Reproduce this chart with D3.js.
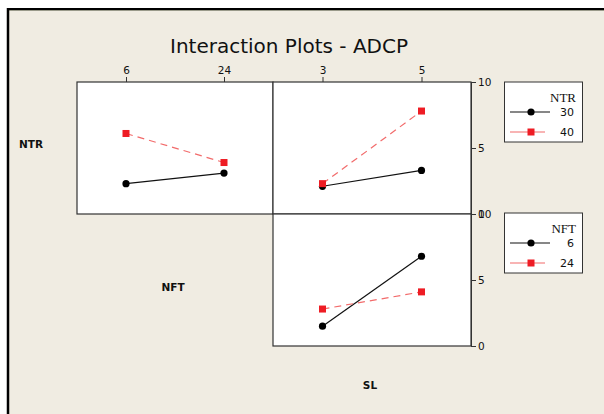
<!DOCTYPE html>
<html><head><meta charset="utf-8">
<script src="https://cdn.jsdelivr.net/npm/d3@7"></script>
<style>
html,body{margin:0;padding:0;background:#fff;}
svg{display:block;}
</style></head>
<body>
<svg id="chart" width="604" height="414"></svg>
<script>
// ---- data ----
const ntrLevels = ["30", "40"];
const nftLevels = ["6", "24"];
const slLevels = ["3", "5"];
const yTicks = [0, 5, 10];
// NTR x NFT panel (x = NFT)
const ntr30ByNft = [2.3, 3.1];
const ntr40ByNft = [6.1, 3.9];
// NTR x SL panel (x = SL)
const ntr30BySl = [2.1, 3.3];
const ntr40BySl = [2.3, 7.8];
// NFT x SL panel (x = SL)
const nft6BySl = [1.5, 6.8];
const nft24BySl = [2.8, 4.1];

const svg = d3.select("#chart");
const bg = "#f0ece2";
const red = "#ee1c24";
const redLine = "#f26b6b";

// background & frame
svg.append("rect").attr("x", 8).attr("y", 9).attr("width", 596).attr("height", 405).attr("fill", bg);
svg.append("line").attr("x1", 7).attr("x2", 604).attr("y1", 9).attr("y2", 9).attr("stroke", "#000").attr("stroke-width", 2);
svg.append("line").attr("x1", 9).attr("x2", 604).attr("y1", 10.5).attr("y2", 10.5).attr("stroke", "#9a9a8a").attr("stroke-width", 1);
svg.append("line").attr("x1", 8).attr("x2", 8).attr("y1", 8).attr("y2", 414).attr("stroke", "#000").attr("stroke-width", 2.5);

// title
svg.append("text").attr("x", 289).attr("y", 53).attr("text-anchor", "middle")
  .attr("font-family", "'DejaVu Sans', Verdana, sans-serif").attr("font-size", 20)
  .attr("fill", "#111").text("Interaction Plots - ADCP");

const x0 = 77, xm = 273, x1 = 471;
const yT = 82, yM = 214, yB = 346;

function panel(left, right, top, bottom, levels, series) {
  const g = svg.append("g");
  const x = d3.scalePoint().domain(levels).range([left, right]).padding(0.5);
  const y = d3.scaleLinear().domain([0, 10]).range([bottom, top]);
  g.append("rect").attr("x", left).attr("y", top).attr("width", right - left).attr("height", bottom - top)
    .attr("fill", "#fff").attr("stroke", "#333").attr("stroke-width", 1.2);
  series.forEach(s => {
    const pts = levels.map((l, i) => [x(l), y(s.values[i])]);
    g.append("path").attr("d", d3.line()(pts)).attr("fill", "none")
      .attr("stroke", s.line).attr("stroke-width", 1.2)
      .attr("stroke-dasharray", s.dash ? "7,5" : null);
    pts.forEach(p => {
      if (s.shape === "circle") {
        g.append("circle").attr("cx", p[0]).attr("cy", p[1]).attr("r", 3.6).attr("fill", "#000");
      } else {
        g.append("rect").attr("x", p[0] - 3.5).attr("y", p[1] - 3.5).attr("width", 7).attr("height", 7).attr("fill", s.color);
      }
    });
  });
  return { x, y };
}

const s1 = panel(x0, xm, yT, yM, nftLevels, [
  { values: ntr30ByNft, line: "#111", shape: "circle" },
  { values: ntr40ByNft, line: redLine, color: red, shape: "square", dash: true }
]);
const s2 = panel(xm, x1, yT, yM, slLevels, [
  { values: ntr30BySl, line: "#111", shape: "circle" },
  { values: ntr40BySl, line: redLine, color: red, shape: "square", dash: true }
]);
const s3 = panel(xm, x1, yM, yB, slLevels, [
  { values: nft6BySl, line: "#111", shape: "circle" },
  { values: nft24BySl, line: redLine, color: red, shape: "square", dash: true }
]);

// top axes
function topAxis(sc) {
  const a = svg.append("g").attr("transform", `translate(0,${yT})`)
    .call(d3.axisTop(sc).tickSize(5).tickPadding(3));
  a.select(".domain").remove();
  a.selectAll("line").attr("stroke", "#333");
  a.selectAll("text").attr("font-family", "'DejaVu Sans', Verdana, sans-serif").attr("font-size", 10.5).attr("fill", "#111");
}
topAxis(s1.x);
topAxis(s2.x);

// right axes
function rightAxis(sc) {
  const a = svg.append("g").attr("transform", `translate(${x1},0)`)
    .call(d3.axisRight(sc).tickValues(yTicks).tickSize(5).tickPadding(2));
  a.select(".domain").attr("stroke", "#333");
  a.selectAll("line").attr("stroke", "#333");
  a.selectAll("text").attr("font-family", "'DejaVu Sans', Verdana, sans-serif").attr("font-size", 10.5).attr("fill", "#111");
}
rightAxis(s2.y);
rightAxis(s3.y);

// row labels
const lab = (t, x, y) => svg.append("text").attr("x", x).attr("y", y).attr("text-anchor", "middle")
  .attr("font-family", "'DejaVu Sans', Verdana, sans-serif").attr("font-weight", "bold").attr("font-size", 10.5)
  .attr("fill", "#111").text(t);
lab("NTR", 31, 148);
lab("NFT", 173, 291);
lab("SL", 370, 389);

// legends
function legend(top, title, levels) {
  const g = svg.append("g");
  g.append("rect").attr("x", 504.5).attr("y", top).attr("width", 78).attr("height", 60)
    .attr("fill", "#fff").attr("stroke", "#333").attr("stroke-width", 1);
  g.append("text").attr("x", 576).attr("y", top + 20).attr("text-anchor", "end")
    .attr("font-family", "'Liberation Serif', serif").attr("font-size", 13).attr("fill", "#111").text(title);
  levels.forEach((l, i) => {
    const yy = top + 30 + i * 20;
    if (i === 0) {
      g.append("line").attr("x1", 510).attr("x2", 550).attr("y1", yy).attr("y2", yy).attr("stroke", "#111").attr("stroke-width", 1.2);
      g.append("circle").attr("cx", 531).attr("cy", yy).attr("r", 3.6).attr("fill", "#000");
    } else {
      g.append("line").attr("x1", 510).attr("x2", 545).attr("y1", yy).attr("y2", yy).attr("stroke", redLine).attr("stroke-width", 1.2);
      g.append("rect").attr("x", 527.5).attr("y", yy - 3.5).attr("width", 7).attr("height", 7).attr("fill", red);
    }
    g.append("text").attr("x", 574).attr("y", yy + 4).attr("text-anchor", "end")
      .attr("font-family", "'DejaVu Sans', Verdana, sans-serif").attr("font-size", 11).attr("fill", "#111").text(l);
  });
}
legend(82, "NTR", ntrLevels);
legend(213, "NFT", nftLevels);
</script>
</body></html>
